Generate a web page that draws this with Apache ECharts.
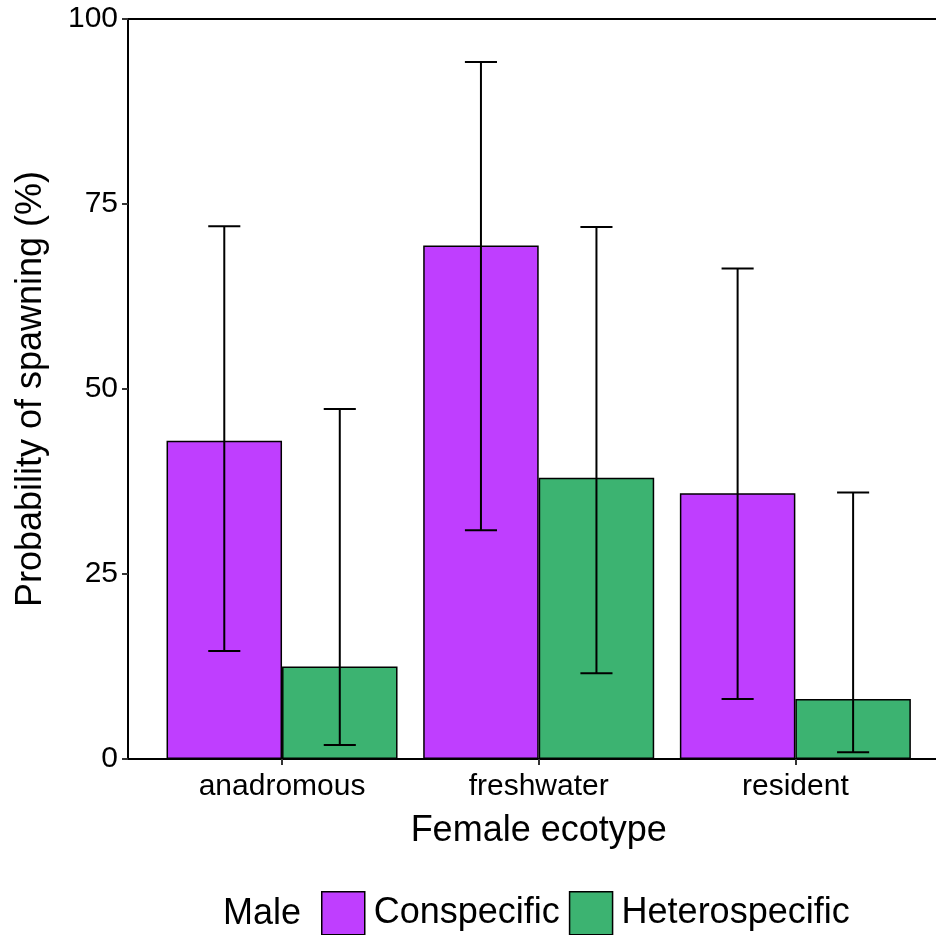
<!DOCTYPE html>
<html>
<head>
<meta charset="utf-8">
<script src="https://cdn.jsdelivr.net/npm/echarts@6/dist/echarts.min.js"></script>
<style>
html,body{margin:0;padding:0;background:#fff;}
#chart{width:936px;height:935px;}
</style>
</head>
<body>
<div id="chart"></div>
<script>
// ---- data ----
var categories = ['anadromous', 'freshwater', 'resident'];
var seriesNames = ['Conspecific', 'Heterospecific'];
var conValues = [43.0, 69.4, 35.9];
var conLow = [14.6, 30.9, 8.1];
var conHigh = [72.0, 94.2, 66.3];
var hetValues = [12.5, 38.0, 8.1];
var hetLow = [1.9, 11.6, 0.9];
var hetHigh = [47.3, 71.9, 36.0];
var yTicks = [0, 25, 50, 75, 100];

var FONT = 'Liberation Sans, Arial, sans-serif';
var colors = ['#BF3EFF', '#3CB371'];

function errData(low, high) {
  return categories.map(function (c, i) { return [i, low[i], high[i]]; });
}

function errorSeries(name, low, high, sign) {
  return {
    type: 'custom',
    name: name + ' CI',
    xAxisIndex: 1,
    yAxisIndex: 1,
    z: 5,
    silent: true,
    data: errData(low, high),
    renderItem: function (params, api) {
      var band = api.size([1, 0])[0];
      var c = api.coord([api.value(0), api.value(1)]);
      var h = api.coord([api.value(0), api.value(2)]);
      var x = c[0] + sign * 0.225 * band;
      var half = 0.0625 * band;
      var st = {stroke: '#000', lineWidth: 2};
      return {
        type: 'group',
        children: [
          {type: 'line', shape: {x1: x, y1: c[1], x2: x, y2: h[1]}, style: st},
          {type: 'line', shape: {x1: x - half, y1: c[1], x2: x + half, y2: c[1]}, style: st},
          {type: 'line', shape: {x1: x - half, y1: h[1], x2: x + half, y2: h[1]}, style: st}
        ]
      };
    }
  };
}

var chart = echarts.init(document.getElementById('chart'), null, {renderer: 'canvas'});
var option = {
  backgroundColor: '#fff',
  animation: false,
  textStyle: {fontFamily: FONT},
  grid: [
    {left: 128, right: -13, top: 19, bottom: 176},
    {left: 153.7, right: 12.3, top: 19, bottom: 176}
  ],
  xAxis: [
    {type: 'value', gridIndex: 0, min: 0, max: 1, position: 'bottom',
     axisLine: {show: true, onZero: false, lineStyle: {color: '#000', width: 2}},
     axisTick: {show: false}, axisLabel: {show: false}, splitLine: {show: false}},
    {type: 'category', gridIndex: 1, data: categories, position: 'bottom',
     axisLine: {show: false},
     axisTick: {show: true, alignWithLabel: true, length: 6, lineStyle: {color: '#333', width: 2}},
     axisLabel: {color: '#000', fontSize: 30, fontFamily: FONT, margin: 13},
     name: 'Female ecotype', nameLocation: 'middle', nameGap: 54,
     nameTextStyle: {color: '#000', fontSize: 36, fontFamily: FONT}},
    {type: 'value', gridIndex: 0, min: 0, max: 1, position: 'top',
     axisLine: {show: true, onZero: false, lineStyle: {color: '#000', width: 2}},
     axisTick: {show: false}, axisLabel: {show: false}, splitLine: {show: false}}
  ],
  yAxis: [
    {type: 'value', gridIndex: 0, min: 0, max: 100, interval: 25,
     axisLine: {show: true, lineStyle: {color: '#000', width: 2}},
     axisTick: {show: true, length: 6, lineStyle: {color: '#333', width: 2}},
     axisLabel: {color: '#000', fontSize: 30, fontFamily: FONT, margin: 10,
       formatter: function (v) { return yTicks.indexOf(v) >= 0 ? String(v) : ''; }},
     splitLine: {show: false},
     name: 'Probability of spawning (%)', nameLocation: 'middle', nameGap: 79,
     nameTextStyle: {color: '#000', fontSize: 36, fontFamily: FONT}},
    {type: 'value', gridIndex: 1, min: 0, max: 100, interval: 25, show: false}
  ],
  legend: {
    data: seriesNames,
    left: 316, top: 886,
    icon: 'rect', itemWidth: 43, itemHeight: 43, itemGap: 9,
    itemStyle: {borderColor: '#000', borderWidth: 1.5},
    textStyle: {color: '#000', fontSize: 36, fontFamily: FONT, padding: [0, 0, 0, 4]},
    selectedMode: false
  },
  graphic: [
    {type: 'text', left: 223, top: 896,
     style: {text: 'Male', font: '36px ' + FONT, fill: '#000'}}
  ],
  series: [
    {type: 'bar', name: seriesNames[0], xAxisIndex: 1, yAxisIndex: 1, data: conValues,
     barGap: '0%', barCategoryGap: '10%',
     itemStyle: {color: colors[0], borderColor: '#000', borderWidth: 1.5}},
    {type: 'bar', name: seriesNames[1], xAxisIndex: 1, yAxisIndex: 1, data: hetValues,
     barGap: '0%', barCategoryGap: '10%',
     itemStyle: {color: colors[1], borderColor: '#000', borderWidth: 1.5}},
    errorSeries(seriesNames[0], conLow, conHigh, -1),
    errorSeries(seriesNames[1], hetLow, hetHigh, 1)
  ]
};
chart.setOption(option);
</script>
</body>
</html>
